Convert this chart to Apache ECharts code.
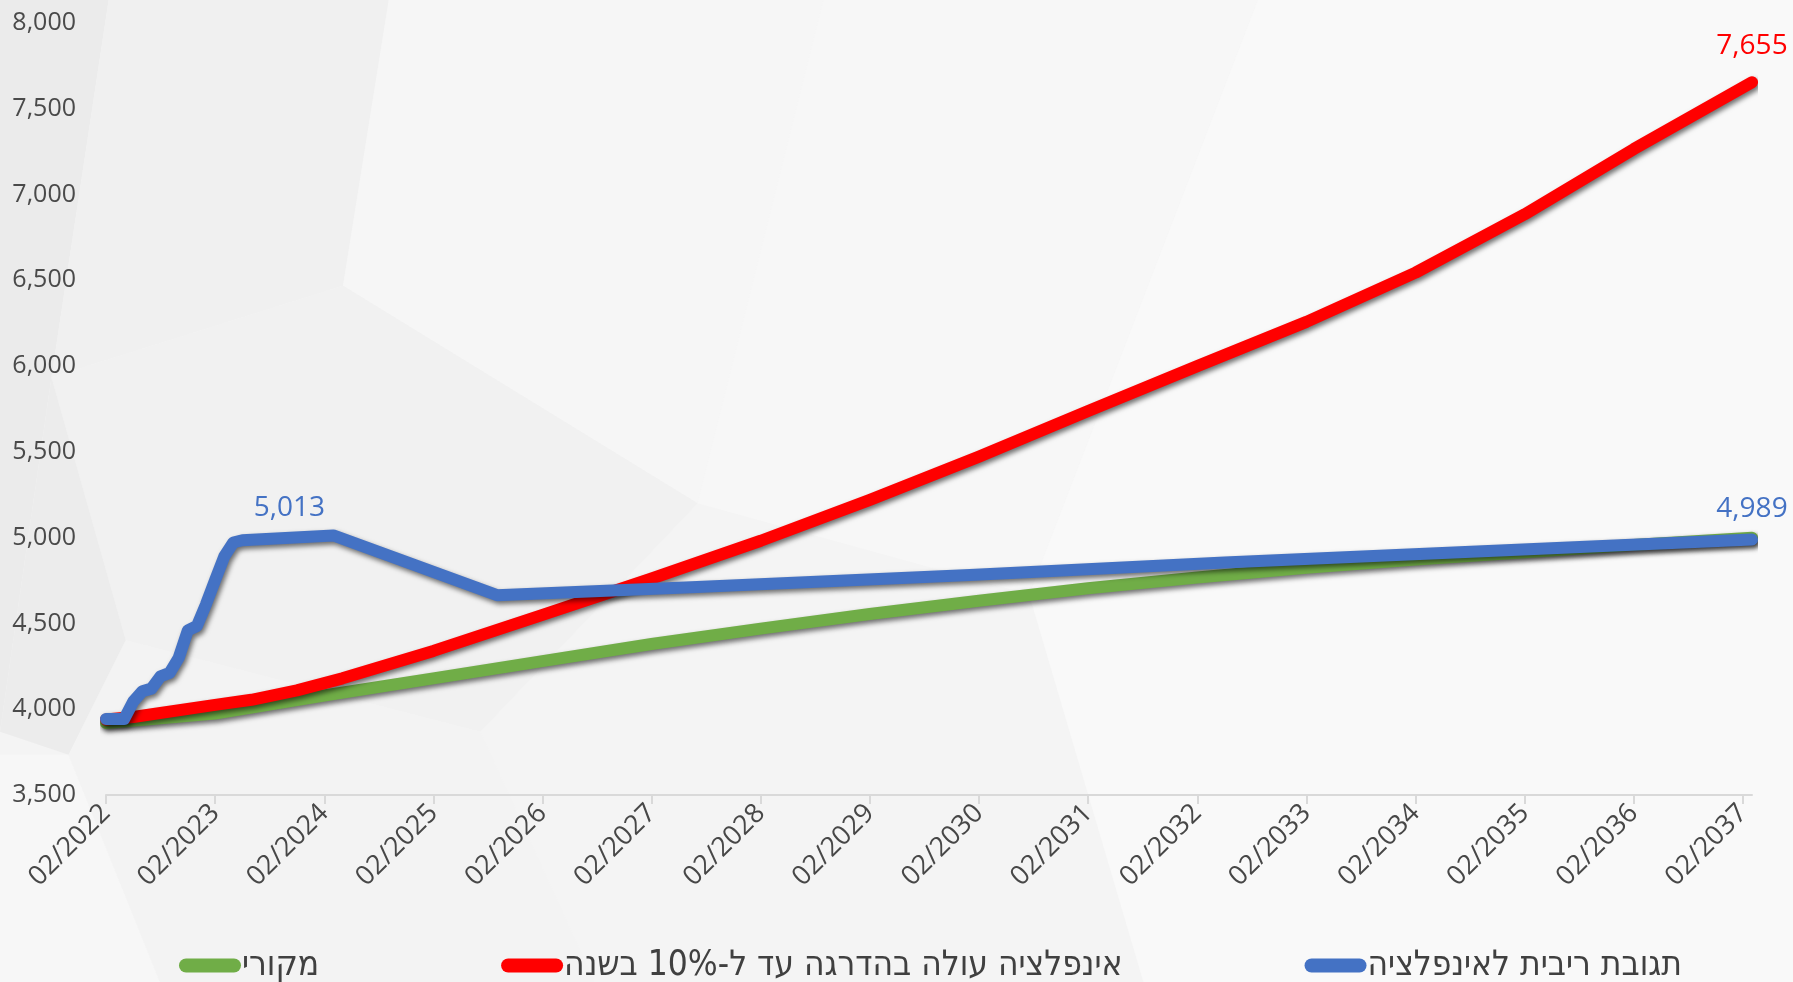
<!DOCTYPE html>
<html>
<head>
<meta charset="utf-8">
<script src="https://cdn.jsdelivr.net/npm/echarts@6/dist/echarts.min.js"></script>
<style>
  html, body { margin: 0; padding: 0; background: #f2f2f2; }
  #chart { width: 1793px; height: 982px; }
</style>
</head>
<body>
<div id="chart"></div>
<script>
// X positions are months counted from 02/2022.
const tickMonths = [0, 12, 24, 36, 48, 60, 72, 84, 96, 108, 120, 132, 144, 156, 168, 180];
const tickLabels = ['02/2022', '02/2023', '02/2024', '02/2025', '02/2026', '02/2027', '02/2028', '02/2029',
                    '02/2030', '02/2031', '02/2032', '02/2033', '02/2034', '02/2035', '02/2036', '02/2037'];

const seriesNames = ['מקורי', 'אינפלציה עולה בהדרגה עד ל-10% בשנה', 'תגובת ריבית לאינפלציה'];

// Original payment schedule
const greenMonths = [0, 12, 24, 36, 48, 60, 72, 84, 96, 108, 120, 132, 144, 156, 168, 181];
const greenValues = [3920, 3975, 4080, 4180, 4280, 4380, 4470, 4555, 4632, 4705, 4768, 4825, 4872, 4915, 4958, 5000];

// Inflation rising gradually to 10% a year
const redMonths = [0, 3, 12, 16, 21, 26, 36, 48, 60, 72, 84, 96, 108, 120, 132, 144, 156, 168, 181];
const redValues = [3940, 3955, 4025, 4055, 4110, 4180, 4340, 4550, 4762, 4982, 5220, 5472, 5738, 6000, 6258, 6545, 6885, 7265, 7655];

// Interest-rate response to inflation
const blueMonths = [0, 1, 2, 3, 4, 5, 6, 7, 8, 9, 10, 11, 12, 13, 14, 15, 25, 43, 65, 95, 123, 181];
const blueValues = [3943, 3943, 3943, 4045, 4105, 4120, 4192, 4212, 4300, 4460, 4485, 4612, 4752, 4890, 4972, 4985, 5013, 4665, 4712, 4782, 4855, 4989];

const colors = ['#70ad47', '#ff0000', '#4472c4'];

const fmt = v => Number(v).toLocaleString('en-US');

function buildData(months, values, labelled) {
  return months.map((m, i) => {
    const item = { value: [m, values[i]] };
    if (labelled[i]) item.label = Object.assign({ show: true }, labelled[i]);
    return item;
  });
}

const numFont = "'Open Sans', 'Noto Sans', sans-serif";

const redLabels = {};
redLabels[redMonths.length - 1] = { position: 'top', distance: 22, color: '#ff0000' };
const blueLabels = {};
blueLabels[blueMonths.indexOf(25)] = { position: 'top', distance: 13, offset: [-44, 0], color: '#4472c4' };
blueLabels[blueMonths.length - 1] = { position: 'top', distance: 16, color: '#4472c4' };

function lineSeries(idx, months, values, labels) {
  return {
    name: seriesNames[idx],
    type: 'line',
    data: buildData(months, values, labels),
    symbol: 'circle',
    symbolSize: 1,
    showSymbol: true,
    smooth: false,
    itemStyle: { color: 'rgba(0,0,0,0)' },
    label: {
      show: false,
      fontFamily: numFont,
      fontSize: 28,
      formatter: p => fmt(p.value[1])
    },
    lineStyle: {
      color: colors[idx],
      width: 12,
      cap: 'round',
      join: 'round',
      shadowColor: 'rgba(0,0,0,0.55)',
      shadowBlur: 5,
      shadowOffsetX: 2,
      shadowOffsetY: 3
    },
    emphasis: { disabled: true },
    animation: false,
    z: 2 + idx
  };
}

// Soft low-poly backdrop shapes
const S = 1793 / 1568;
function poly(points, fill) {
  return {
    type: 'polygon', silent: true, z: -100,
    shape: { points: points.map(p => [p[0] * S, p[1] * S]) },
    style: { fill: fill }
  };
}
const backdrop = [
  poly([[0, 0], [95, 0], [45, 330], [0, 640]], '#ebebeb'),
  poly([[95, 0], [340, 0], [300, 250], [45, 330]], '#f0f0f0'),
  poly([[340, 0], [720, 0], [610, 440], [300, 250]], '#f6f6f6'),
  poly([[45, 330], [300, 250], [610, 440], [420, 640], [110, 560]], '#f1f1f1'),
  poly([[0, 640], [45, 330], [110, 560], [60, 660]], '#ececec'),
  poly([[0, 660], [60, 660], [140, 859], [0, 859]], '#f7f7f7'),
  poly([[60, 660], [110, 560], [420, 640], [520, 859], [140, 859]], '#f3f3f3'),
  poly([[420, 640], [610, 440], [900, 520], [1000, 859], [520, 859]], '#f4f4f4'),
  poly([[720, 0], [1100, 0], [900, 520], [610, 440]], '#f7f7f7'),
  poly([[1100, 0], [1568, 0], [1568, 859], [1000, 859], [900, 520]], '#f9f9f9')
];

const chart = echarts.init(document.getElementById('chart'), null, { renderer: 'canvas' });
chart.setOption({
  backgroundColor: '#f4f4f4',
  animation: false,
  graphic: backdrop,
  grid: {
    left: 106, right: 41, top: 23, bottom: 187,
    containLabel: false,
    outerBoundsMode: 'none'
  },
  legend: {
    left: 174,
    top: 943,
    itemGap: 182,
    itemWidth: 62,
    itemHeight: 14,
    icon: 'path://M7,0 L55,0 A7,7 0 0 1 55,14 L7,14 A7,7 0 0 1 7,0 Z',
    selectedMode: false,
    textStyle: {
      fontFamily: "'DejaVu Sans Condensed', 'DejaVu Sans', 'Liberation Sans', sans-serif",
      fontSize: 35,
      color: '#404040',
      padding: [0, 0, 0, -4]
    },
    data: seriesNames.map((n, i) => ({ name: n, itemStyle: { color: colors[i], opacity: 1 } }))
  },
  xAxis: {
    type: 'value',
    min: 0,
    max: 181,
    interval: 12,
    splitLine: { show: false },
    axisLine: { show: true, lineStyle: { color: '#d9d9d9', width: 2 } },
    axisTick: { show: true, length: 9, lineStyle: { color: '#d9d9d9', width: 2 }, customValues: tickMonths },
    axisLabel: {
      customValues: tickMonths,
      rotate: 45,
      margin: 14,
      fontFamily: numFont,
      fontSize: 27,
      color: '#474747',
      formatter: v => tickLabels[tickMonths.indexOf(v)] || ''
    }
  },
  yAxis: {
    type: 'value',
    min: 3500,
    max: 8000,
    interval: 500,
    splitLine: { show: false },
    axisLine: { show: false },
    axisTick: { show: false },
    axisLabel: {
      margin: 30,
      fontFamily: numFont,
      fontSize: 25,
      color: '#4a4a4a',
      formatter: v => fmt(v)
    }
  },
  series: [
    lineSeries(0, greenMonths, greenValues, {}),
    lineSeries(1, redMonths, redValues, redLabels),
    lineSeries(2, blueMonths, blueValues, blueLabels)
  ]
});
</script>
</body>
</html>
